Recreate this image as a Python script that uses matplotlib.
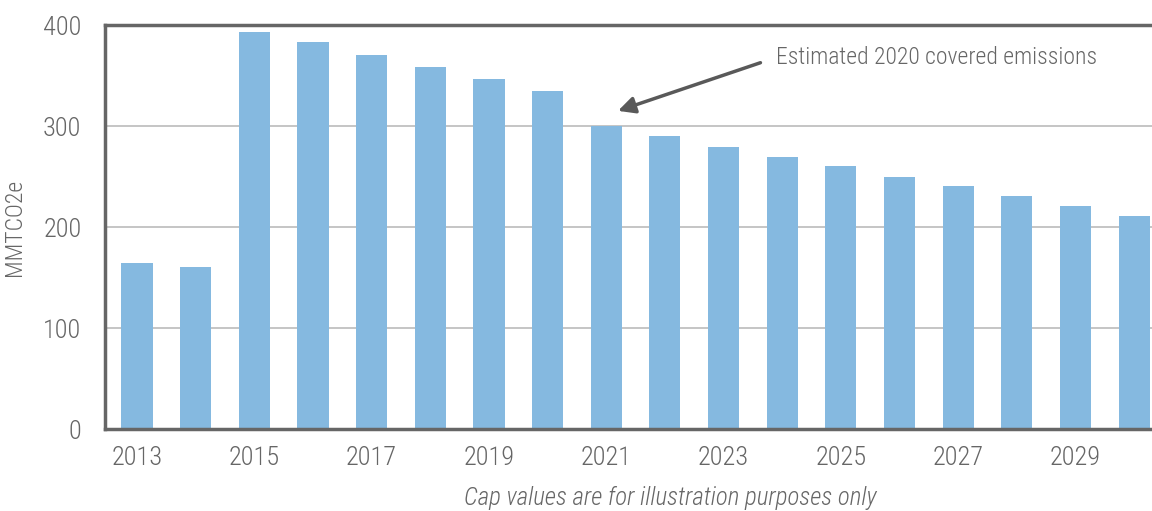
import numpy as np
import matplotlib.pyplot as plt
from matplotlib import font_manager

# Limite anual de emissões (MMTCO2e)
anos = np.arange(2013, 2031)
limite = [164, 160, 393, 383, 370, 358, 347, 335, 300, 290, 279, 269, 260, 250, 241, 231, 221, 211]
anos_rotulo = np.arange(2013, 2031, 2)
y_ticks = [0, 100, 200, 300, 400]

# Fonte estreita, se houver alguma instalada
fontes = {(f.name, f.stretch) for f in font_manager.fontManager.ttflist}
nomes = {n for n, s in fontes}
esticar = 'normal'
familia = 'DejaVu Sans'
for fam in ['Roboto Condensed', 'Liberation Sans Narrow', 'Open Sans Condensed']:
    if fam in nomes:
        familia = fam
        break
else:
    if any(n == 'DejaVu Sans' and s in ('condensed', 'semi-condensed') for n, s in fontes):
        esticar = 'condensed'
plt.rcParams['font.family'] = [familia, 'DejaVu Sans']
plt.rcParams['font.stretch'] = esticar
plt.rcParams['font.weight'] = 'light'
plt.rcParams['axes.labelweight'] = 'light'
cinza = '#666666'

fig = plt.figure(figsize=(11.52, 5.11), dpi=100)
ax = fig.add_axes([105 / 1152, 1 - 429 / 511, 1 - 105 / 1152 + 0.01, (429 - 25) / 511])

ax.bar(anos, limite, width=0.53, color='#85b9e0', zorder=2)

ax.set_xlim(2012.454, 2030.5)
ax.set_ylim(0, 400)
ax.set_xticks(anos_rotulo)
ax.set_yticks(y_ticks)
ax.tick_params(axis='x', length=0, labelsize=19, colors=cinza, pad=12)
ax.tick_params(axis='y', length=0, labelsize=19, colors=cinza, pad=17)
ax.grid(axis='y', color='#bbbbbb', lw=1.2, zorder=1)

for lado in ['left', 'top', 'bottom']:
    ax.spines[lado].set_color(cinza)
    ax.spines[lado].set_linewidth(2.5)
ax.spines['right'].set_visible(False)

ax.set_ylabel('MMTCO2e', fontsize=17, color=cinza, labelpad=12)

# Seta indicando as emissões estimadas
ax.annotate('Estimated 2020 covered emissions',
            xy=(2021.2, limite[8] + 15), xytext=(2023.9, 368),
            fontsize=17, color=cinza, va='center', ha='left',
            arrowprops=dict(arrowstyle='-|>', color='#595959', lw=2.5,
                            mutation_scale=25, shrinkA=10, shrinkB=0,
                            relpos=(0, 0.5)))

fig.text(0.582, 0.012, 'Cap values are for illustration purposes only',
         fontsize=18, color=cinza, style='italic', ha='center')

fig.savefig('out.png', dpi=100)
